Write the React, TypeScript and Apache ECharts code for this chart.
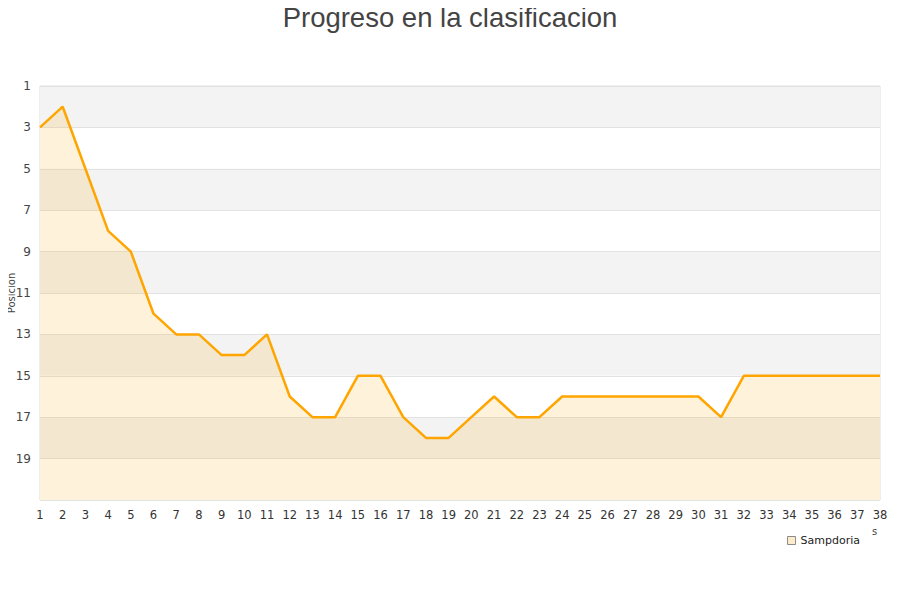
import React, { useEffect, useRef } from "react";
import * as echarts from "echarts";

const jornadas: string[] = Array.from({ length: 38 }, (_, i) => String(i + 1));
const posiciones: number[] = [
  3, 2, 5, 8, 9, 12, 13, 13, 14, 14,
  13, 16, 17, 17, 15, 15, 17, 18, 18, 17,
  16, 17, 17, 16, 16, 16, 16, 16, 16, 16,
  17, 15, 15, 15, 15, 15, 15, 15,
];
const teamName = "Sampdoria";
const chartTitle = "Progreso en la clasificacion";
const yAxisName = "Posicion";

export default function App() {
  const ref = useRef<HTMLDivElement>(null);
  useEffect(() => {
    if (!ref.current) return;
    const chart = echarts.init(ref.current, undefined, { renderer: "svg" });
    chart.setOption({
      animation: false,
      backgroundColor: "#ffffff",
      title: {
        text: chartTitle,
        left: "center",
        top: -2,
        textStyle: {
          fontFamily: "Liberation Sans, Arial, sans-serif",
          fontSize: 27.5,
          fontWeight: "normal",
          color: "#444444",
        },
      },
      legend: {
        data: [
          {
            name: teamName,
            itemStyle: { color: "#fdeccc", borderColor: "#8a8a8a", borderWidth: 1 },
          },
        ],
        right: 35,
        top: 530,
        icon: "rect",
        itemWidth: 8,
        itemHeight: 8,
        itemGap: 6,
        textStyle: { fontFamily: "DejaVu Sans, sans-serif", fontSize: 11, color: "#222" },
      },
      grid: {
        left: 40,
        right: 20,
        top: 86,
        bottom: 100,
        show: true,
        borderColor: "#dddddd",
        borderWidth: 1,
        outerBoundsMode: "none",
        containLabel: false,
      },
      xAxis: {
        type: "category",
        data: jornadas,
        boundaryGap: false,
        axisLine: { show: false },
        axisTick: { show: false },
        axisLabel: {
          interval: 0,
          fontFamily: "DejaVu Sans, sans-serif",
          fontSize: 11.5,
          color: "#333",
          margin: 9,
        },
        splitLine: { show: false },
      },
      yAxis: {
        type: "value",
        inverse: true,
        min: 1,
        max: 21,
        interval: 2,
        axisLine: { show: false },
        axisTick: { show: false },
        axisLabel: {
          fontFamily: "DejaVu Sans, sans-serif",
          fontSize: 12,
          color: "#444",
          margin: 9,
          formatter: (v: number) => (v >= 21 ? "" : String(v)),
        },
        splitLine: { show: true, lineStyle: { color: "#e2e2e2", width: 1 } },
        splitArea: { show: true, areaStyle: { color: ["#f3f3f3", "#ffffff"] } },
      },
      series: [
        {
          name: teamName,
          type: "line",
          data: posiciones,
          symbol: "none",
          lineStyle: { color: "#ffa500", width: 2.5 },
          areaStyle: { color: "rgba(255,165,0,0.2)", origin: "end" },
        },
      ],
      graphic: [
        {
          type: "text",
          x: 11,
          y: 293,
          rotation: Math.PI / 2,
          style: {
            text: yAxisName,
            fontSize: 10,
            fontFamily: "DejaVu Sans, sans-serif",
            fill: "#444",
            align: "center",
            verticalAlign: "middle",
          },
        },
        {
          type: "text",
          left: 872,
          top: 526,
          style: { text: "s", fontSize: 10, fontFamily: "DejaVu Sans, sans-serif", fill: "#444" },
        },
      ],
    });
    return () => chart.dispose();
  }, []);
  return <div ref={ref} style={{ width: 900, height: 600, margin: -8 }} />;
}
